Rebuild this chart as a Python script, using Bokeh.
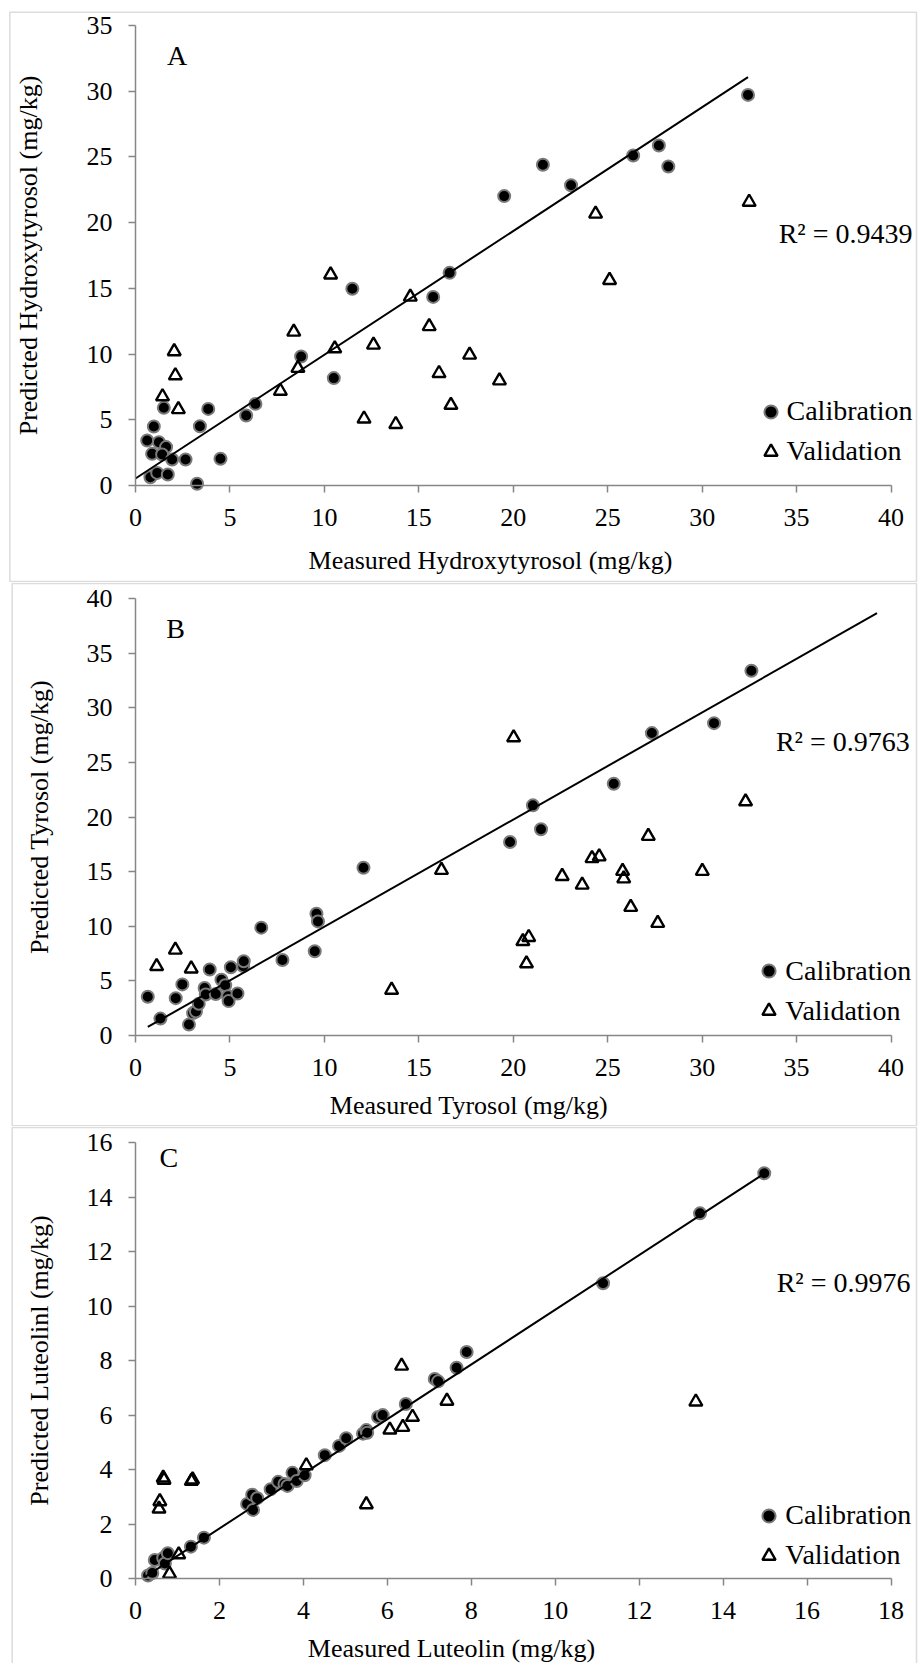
from bokeh.plotting import figure
from bokeh.models import (Range1d, FixedTicker, Label, Legend, LegendItem, BoxAnnotation,
                          LinearAxis)
from bokeh.layouts import column
from bokeh.embed import file_html
from bokeh.resources import INLINE

# ---------------- data ----------------
# Panel A: hydroxytyrosol
hyd_cal_measured = [0.62, 0.97, 1.24, 1.62, 0.88, 1.41, 1.94, 2.65, 0.79, 1.15, 1.71, 3.26, 3.41, 3.85, 1.50,
                    5.86, 6.35, 4.50, 8.77, 10.50, 11.48, 15.76, 16.63, 19.52, 21.57, 23.06, 26.35, 27.71, 28.21, 32.43]
hyd_cal_predicted = [3.42, 4.49, 3.30, 2.92, 2.41, 2.36, 1.98, 1.98, 0.63, 0.96, 0.84, 0.13, 4.51, 5.83, 5.91,
                     5.33, 6.21, 2.03, 9.81, 8.17, 14.97, 14.35, 16.18, 22.02, 24.41, 22.84, 25.11, 25.87, 24.27, 29.72]
hyd_val_measured = [1.43, 2.05, 2.11, 2.27, 7.67, 8.38, 8.60, 10.33, 10.55, 12.10, 12.60, 13.78, 14.55, 15.55,
                    16.07, 16.70, 17.69, 19.27, 24.36, 25.10, 32.49]
hyd_val_predicted = [6.77, 10.20, 8.37, 5.79, 7.19, 11.69, 8.93, 16.04, 10.42, 5.08, 10.70, 4.66, 14.35, 12.11,
                     8.54, 6.12, 9.94, 7.98, 20.67, 15.62, 21.57]
hyd_trend_x = [0.0, 32.43]
hyd_trend_y = [0.53, 31.07]
hyd_r2 = "R\u00b2 = 0.9439"
hyd_x_ticks = [0, 5, 10, 15, 20, 25, 30, 35, 40]
hyd_y_ticks = [0, 5, 10, 15, 20, 25, 30, 35]

# Panel B: tyrosol
tyr_cal_measured = [0.65, 1.32, 2.13, 2.48, 2.83, 3.05, 3.20, 3.35, 3.66, 3.72, 3.93, 4.25, 4.55, 4.75, 4.90,
                    4.93, 5.05, 5.40, 5.70, 5.73, 6.66, 7.78, 9.49, 9.58, 9.66, 12.07, 19.83, 21.04, 21.47,
                    25.32, 27.34, 30.63, 32.61]
tyr_cal_predicted = [3.55, 1.55, 3.42, 4.68, 1.00, 2.05, 2.20, 2.90, 4.35, 3.75, 6.05, 3.80, 5.10, 4.60, 3.60,
                     3.15, 6.25, 3.85, 6.35, 6.80, 9.88, 6.92, 7.72, 11.15, 10.45, 15.37, 17.73, 21.08, 18.89,
                     23.06, 27.70, 28.61, 33.41]
tyr_val_measured = [1.12, 2.11, 2.95, 13.56, 16.20, 20.02, 20.51, 20.70, 20.82, 22.59, 23.65, 24.17, 24.55,
                    25.79, 25.85, 26.22, 27.15, 27.65, 30.01, 32.30]
tyr_val_predicted = [6.34, 7.84, 6.12, 4.17, 15.15, 27.29, 8.63, 6.59, 9.00, 14.59, 13.80, 16.22, 16.38,
                     15.06, 14.37, 11.76, 18.26, 10.29, 15.06, 21.43]
tyr_trend_x = [0.65, 39.26]
tyr_trend_y = [0.78, 38.68]
tyr_r2 = "R\u00b2 = 0.9763"
tyr_x_ticks = [0, 5, 10, 15, 20, 25, 30, 35, 40]
tyr_y_ticks = [0, 5, 10, 15, 20, 25, 30, 35, 40]

# Panel C: luteolin
lut_cal_measured = [0.30, 0.40, 0.46, 0.66, 0.70, 0.77, 1.32, 1.63, 2.66, 2.78, 2.80, 2.90, 3.22, 3.40, 3.55,
                    3.62, 3.74, 3.84, 4.03, 4.51, 4.85, 5.02, 5.42, 5.50, 5.52, 5.78, 5.89, 6.44, 7.13, 7.21,
                    7.65, 7.89, 11.14, 13.45, 14.98]
lut_cal_predicted = [0.11, 0.20, 0.68, 0.75, 0.55, 0.93, 1.17, 1.50, 2.74, 3.08, 2.52, 2.95, 3.28, 3.55, 3.47,
                     3.40, 3.88, 3.58, 3.79, 4.53, 4.87, 5.15, 5.32, 5.45, 5.35, 5.93, 6.00, 6.41, 7.33, 7.24,
                     7.74, 8.32, 10.84, 13.41, 14.88]
lut_val_measured = [0.56, 0.58, 0.66, 0.68, 0.81, 1.03, 1.33, 1.36, 4.07, 5.50, 6.06, 6.34, 6.37, 6.60, 7.42, 13.35]
lut_val_predicted = [2.56, 2.83, 3.70, 3.62, 0.17, 0.88, 3.58, 3.63, 4.15, 2.72, 5.46, 7.81, 5.56, 5.93, 6.52, 6.49]
lut_trend_x = [0.21, 14.96]
lut_trend_y = [0.04, 14.85]
lut_r2 = "R\u00b2 = 0.9976"
lut_x_ticks = [0, 2, 4, 6, 8, 10, 12, 14, 16, 18]
lut_y_ticks = [0, 2, 4, 6, 8, 10, 12, 14, 16]

series_names = ["Calibration", "Validation"]

FONT = "Liberation Serif"
AXIS_GRAY = "#868686"
BORDER_GRAY = "#8c8c8c"
W = 918
AX_LEFT_PX, AX_RIGHT_PX = 135.0, 890.5   # pixel positions of the x-axis ends


def make_panel(cfg):
    H = cfg["height"]
    xt, yt = cfg["x_ticks"], cfg["y_ticks"]
    x_lo, x_hi, y_lo, y_hi = xt[0], xt[-1], yt[0], yt[-1]
    top_px, bot_px = cfg["axis_px"]
    kx = (x_hi - x_lo) / (AX_RIGHT_PX - AX_LEFT_PX)
    ky = (y_hi - y_lo) / (bot_px - top_px)

    def dx(px):
        return x_lo + (px - AX_LEFT_PX) * kx

    def dy(py):
        return y_lo + (bot_px - py) * ky

    # the plot frame covers the whole canvas; axes sit at fixed locations inside it
    p = figure(width=W, height=H, output_backend="svg", toolbar_location=None,
               x_range=Range1d(dx(0), dx(W)), y_range=Range1d(dy(H), dy(0)),
               x_axis_location=None, y_axis_location=None,
               min_border=0, min_border_left=0, min_border_right=0,
               min_border_top=0, min_border_bottom=0)
    p.outline_line_color = None
    p.xgrid.visible = False
    p.ygrid.visible = False
    p.background_fill_color = "white"
    p.border_fill_color = "white"

    xaxis = LinearAxis(fixed_location=y_lo, bounds=(x_lo, x_hi), ticker=FixedTicker(ticks=xt))
    yaxis = LinearAxis(fixed_location=x_lo, bounds=(y_lo, y_hi), ticker=FixedTicker(ticks=yt))
    for ax in (xaxis, yaxis):
        ax.axis_line_color = AXIS_GRAY
        ax.axis_line_width = 1.5
        ax.major_tick_line_color = AXIS_GRAY
        ax.major_tick_line_width = 1.5
        ax.major_tick_out = 7
        ax.major_tick_in = 0
        ax.minor_tick_line_color = None
        ax.major_label_text_font = FONT
        ax.major_label_text_font_size = "26px"
        ax.major_label_text_color = "black"
    xaxis.major_label_standoff = 16
    yaxis.major_label_standoff = 16
    yaxis.axis_label = cfg["y_title"]
    yaxis.axis_label_text_font = FONT
    yaxis.axis_label_text_font_size = "26px"
    yaxis.axis_label_text_font_style = "normal"
    yaxis.axis_label_text_color = "black"
    yaxis.axis_label_standoff = cfg["ytitle_standoff"]
    p.add_layout(xaxis, "below")
    p.add_layout(yaxis, "left")

    r_cal = p.scatter(cfg["cal_x"], cfg["cal_y"], marker="circle", size=12,
                      fill_color="black", line_color="#7a7a7a", line_width=2)
    r_val = p.scatter(cfg["val_x"], cfg["val_y"], marker="triangle", size=13,
                      fill_color=None, line_color="black", line_width=2.4)
    p.line(cfg["trend_x"], cfg["trend_y"], line_color="black", line_width=2)

    tx, ty = cfg["xtitle_px"]
    p.add_layout(Label(x=dx(tx), y=dy(ty), text=cfg["x_title"],
                       text_font=FONT, text_font_size="26px", text_align="center",
                       text_baseline="middle", text_color="black"))
    lx, ly = cfg["letter_px"]
    p.add_layout(Label(x=dx(lx), y=dy(ly), text=cfg["letter"],
                       text_font=FONT, text_font_size="28px", text_align="center",
                       text_baseline="middle", text_color="black"))
    rx, ry = cfg["r2_px"]
    p.add_layout(Label(x=dx(rx), y=dy(ry), text=cfg["r2"],
                       text_font=FONT, text_font_size="28px", text_align="right",
                       text_baseline="middle", text_color="black"))

    gx, gy = cfg["legend_px"]   # left edge of glyph box, bottom of legend (canvas px from top)
    legend = Legend(items=[LegendItem(label=series_names[0], renderers=[r_cal]),
                           LegendItem(label=series_names[1], renderers=[r_val])],
                    location=(gx, H - gy), orientation="vertical",
                    glyph_width=33, glyph_height=33, label_standoff=-4, spacing=7,
                    padding=0, margin=0, border_line_color=None, background_fill_alpha=0,
                    label_text_font=FONT, label_text_font_size="28px", label_text_color="black")
    p.add_layout(legend)

    bl, br, bt, bb = cfg["border_px"]
    p.add_layout(BoxAnnotation(left=dx(bl), right=dx(br), top=dy(bt), bottom=dy(bb),
                               fill_color=None, fill_alpha=0, line_color=BORDER_GRAY,
                               line_width=1.5, level="underlay"))
    return p


panels = [
    dict(height=582, axis_px=(25.0, 485.0),
         x_ticks=hyd_x_ticks, y_ticks=hyd_y_ticks,
         cal_x=hyd_cal_measured, cal_y=hyd_cal_predicted,
         val_x=hyd_val_measured, val_y=hyd_val_predicted,
         trend_x=hyd_trend_x, trend_y=hyd_trend_y,
         x_title="Measured Hydroxytyrosol (mg/kg)", y_title="Predicted Hydroxytyrosol (mg/kg)",
         ytitle_standoff=41, xtitle_px=(490, 560),
         letter="A", letter_px=(176.7, 55), r2=hyd_r2, r2_px=(912, 233),
         legend_px=(753.5, 467.8), border_px=(9.3, 916, 11.7, 581)),
    dict(height=544, axis_px=(16.3, 453.0),
         x_ticks=tyr_x_ticks, y_ticks=tyr_y_ticks,
         cal_x=tyr_cal_measured, cal_y=tyr_cal_predicted,
         val_x=tyr_val_measured, val_y=tyr_val_predicted,
         trend_x=tyr_trend_x, trend_y=tyr_trend_y,
         x_title="Measured Tyrosol (mg/kg)", y_title="Predicted Tyrosol (mg/kg)",
         ytitle_standoff=30, xtitle_px=(468.5, 523),
         letter="B", letter_px=(175, 46.3), r2=tyr_r2, r2_px=(909.3, 159),
         legend_px=(752.3, 445.3), border_px=(11.7, 916, 1.0, 543.3)),
    dict(height=537, axis_px=(16.3, 452.0),
         x_ticks=lut_x_ticks, y_ticks=lut_y_ticks,
         cal_x=lut_cal_measured, cal_y=lut_cal_predicted,
         val_x=lut_val_measured, val_y=lut_val_predicted,
         trend_x=lut_trend_x, trend_y=lut_trend_y,
         x_title="Measured Luteolin (mg/kg)", y_title="Predicted Luteolinl (mg/kg)",
         ytitle_standoff=30, xtitle_px=(451, 521.6),
         letter="C", letter_px=(168.3, 30.7), r2=lut_r2, r2_px=(910, 156),
         legend_px=(752.3, 445.8), border_px=(11.7, 916, 1.0, 545)),
]

figs = [make_panel(c) for c in panels]
layout = column(*figs, spacing=0)

open("out.html", "w").write(file_html(layout, INLINE))
